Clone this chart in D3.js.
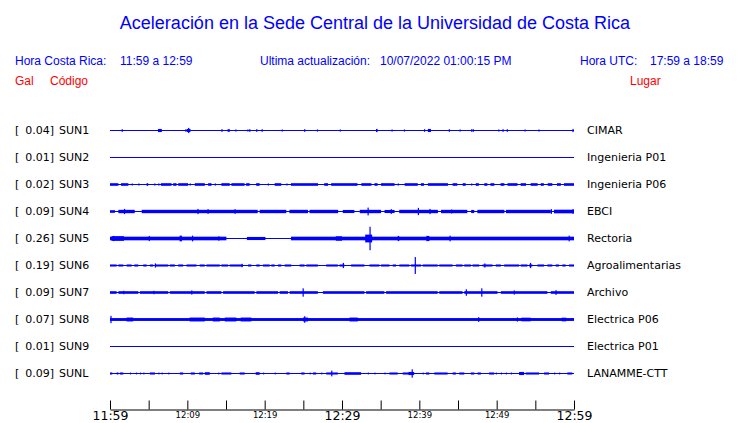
<!DOCTYPE html>
<html>
<head>
<meta charset="utf-8">
<script src="https://cdn.jsdelivr.net/npm/d3@7"></script>
<style>
  body { margin: 0; background: #fff; }
  .hdr { font-family: "Liberation Sans", Arial, sans-serif; }
  .lbl { font-family: "DejaVu Sans", sans-serif; font-size: 11px; fill: #000; }
</style>
</head>
<body>
<svg id="chart" width="740" height="423"></svg>
<script>
// station info
var codes = ["SUN1", "SUN2", "SUN3", "SUN4", "SUN5", "SUN6", "SUN7", "SUN8", "SUN9", "SUNL"];
var places = ["CIMAR", "Ingenieria P01", "Ingenieria P06", "EBCI", "Rectoria", "Agroalimentarias", "Archivo", "Electrica P06", "Electrica P01", "LANAMME-CTT"];
var peaks = ["0.04", "0.01", "0.02", "0.09", "0.26", "0.19", "0.09", "0.07", "0.01", "0.09"];

// time axis (minutes after 11:59)
var tickMinutes = [0, 5, 10, 15, 20, 25, 30, 35, 40, 45, 50, 55, 60];
var tickLabels = ["11:59", "", "12:09", "", "12:19", "", "12:29", "", "12:39", "", "12:49", "", "12:59"];
var bigLabels = ["11:59", "12:29", "12:59"];

// trace envelopes: [start min, end min, half amplitude (relative)]
var sun1 = [[1.5,1.5,0.1],[6.2,6.7,0.12],[9.7,9.7,0.08],[9.9,10.4,0.12],[10.1,10.1,0.2],[14.4,14.4,0.1],[15.2,15.5,0.1],
  [16.2,16.2,0.08],[17.75,17.75,0.08],[18.0,18.0,0.1],[18.9,18.9,0.1],[19.6,19.6,0.1],[22.2,22.2,0.08],[25.1,25.1,0.1],
  [26.75,26.75,0.08],[29.7,29.7,0.08],[34.4,34.6,0.12],[36.4,36.4,0.08],[38.0,38.0,0.08],[40.6,40.6,0.1],[41.1,41.5,0.12],
  [43.8,43.8,0.1],[45.2,45.2,0.08],[46.7,46.7,0.1],[46.9,46.9,0.1],[50.2,50.2,0.08],[50.75,50.75,0.1],[51.3,51.3,0.1],
  [53.6,53.6,0.08],[55.4,55.4,0.08],[59.8,59.8,0.12]];
var sun2 = [];
var sun3 = [[0,1.08,0.1],[1.42,2.37,0.1],[2.8,2.8,0.08],[3.66,3.66,0.08],[4.73,4.95,0.1],[5.72,5.72,0.08],[6.24,6.24,0.08],
  [6.58,7.96,0.1],[8.17,8.6,0.1],[8.82,10.1,0.1],[10.3,10.3,0.08],[10.97,12.26,0.1],[12.69,13.12,0.1],[13.55,13.55,0.08],
  [14.4,15.48,0.1],[15.7,17.4,0.1],[17.6,18.06,0.1],[18.9,19.35,0.1],[20.4,20.4,0.08],[21.3,22.15,0.1],[22.8,22.8,0.08],
  [23.4,26.9,0.1],[27.7,28.2,0.1],[28.6,32.0,0.1],[32.5,33.8,0.1],[34.2,34.6,0.1],[35.05,36.8,0.1],[37.2,37.2,0.08],
  [38.1,39.8,0.1],[40.2,40.6,0.1],[41.1,43.7,0.1],[44.3,44.9,0.1],[45.6,46.0,0.1],[46.7,46.7,0.08],[47.3,47.7,0.1],
  [48.4,48.8,0.1],[49.2,49.7,0.1],[50.5,51.0,0.1],[51.4,52.7,0.1],[53.1,53.8,0.1],[54.4,55.3,0.1],[55.7,56.1,0.1],
  [56.6,57.2,0.1],[57.8,58.3,0.1],[58.7,60,0.1]];
var sun4 = [[0,0.65,0.1],[1.08,3.2,0.13],[4.1,19.1,0.13],[19.35,22.8,0.13],[23.2,25.6,0.13],[25.8,29.5,0.13],[30.1,31.6,0.12],
  [32.3,35.05,0.13],[35.5,36.8,0.12],[37.4,42.4,0.13],[42.8,46.2,0.13],[46.7,47.1,0.12],[47.5,51.0,0.13],[51.2,57.0,0.13],
  [57.4,60,0.14],[1.8,1.8,0.2],[11.3,11.3,0.2],[12.6,12.6,0.18],[16.1,16.1,0.18],[33.3,33.3,0.3],[36.3,36.3,0.18],
  [39.8,39.8,0.28],[41.3,41.3,0.2],[44.1,44.1,0.15],[57.0,57.0,0.18],[59.8,59.8,0.18]];
var sun5 = [[0,15.05,0.14],[17.7,20.1,0.12],[23.4,60,0.14],[0.2,1.8,0.18],[0.4,0.4,0.2],[5.0,5.0,0.2],[9.0,9.3,0.22],
  [10.6,10.6,0.22],[14.0,14.0,0.17],[29.2,30.0,0.17],[33.0,33.9,0.3],[33.55,33.55,0.9],[37.2,37.4,0.2],[40.9,41.3,0.2],
  [43.9,43.9,0.22],[59.3,59.3,0.22]];
var sun6 = [[0,0.86,0.08],[1.08,1.72,0.08],[2.15,2.8,0.08],[3.14,3.66,0.08],[4.3,4.73,0.08],[5.16,5.59,0.08],[5.8,7.53,0.08],
  [7.74,8.39,0.08],[8.82,9.46,0.08],[9.9,11.18,0.08],[11.6,12.26,0.08],[12.47,14.19,0.08],[14.4,15.27,0.08],[15.48,17.2,0.08],
  [17.85,18.28,0.08],[18.92,19.35,0.08],[19.78,20.65,0.08],[20.86,21.29,0.08],[21.72,22.15,0.08],[22.58,23.44,0.08],
  [24.52,25.16,0.08],[25.38,26.88,0.08],[27.96,29.46,0.08],[29.68,30.32,0.08],[31.18,32.9,0.08],[33.55,34.84,0.08],
  [35.05,36.13,0.08],[36.56,36.99,0.08],[37.42,38.71,0.08],[38.92,40.22,0.08],[40.43,42.37,0.08],[42.58,44.3,0.08],
  [44.73,45.59,0.08],[45.81,46.67,0.08],[46.88,47.74,0.08],[48.17,49.46,0.08],[49.89,50.54,0.08],[50.97,52.9,0.08],
  [53.12,53.98,0.08],[54.19,54.62,0.08],[55.27,56.13,0.08],[56.56,57.2,0.08],[57.63,58.06,0.08],[58.49,58.92,0.08],
  [59.35,60,0.08],[5.8,5.8,0.16],[17.0,17.0,0.13],[30.1,30.1,0.2],[39.4,39.4,0.65],[48.4,48.4,0.16],[54.3,54.3,0.2]];
var sun7 = [[0,0.86,0.1],[1.08,3.66,0.1],[3.87,7.53,0.1],[7.74,12.26,0.1],[12.47,14.41,0.1],[14.62,18.71,0.1],
  [18.92,21.72,0.1],[21.94,23.01,0.1],[23.23,26.88,0.1],[27.53,32.9,0.1],[33.12,35.48,0.1],[35.7,42.37,0.1],
  [42.58,45.59,0.1],[45.81,50.11,0.1],[50.54,56.56,0.1],[56.99,60,0.1],[1.7,1.7,0.13],[5.6,5.6,0.13],[10.5,10.5,0.16],
  [24.9,24.9,0.32],[46.0,46.0,0.25],[48.0,48.0,0.32],[52.2,52.2,0.16],[57.6,57.6,0.18]];
var sun8 = [[0,60,0.11],[2.15,3.0,0.15],[10.3,12.26,0.15],[13.3,14.2,0.15],[14.84,16.34,0.15],[16.9,18.28,0.15],
  [24.95,25.6,0.15],[30.97,32.04,0.15],[0.05,0.05,0.28],[25.1,25.1,0.25],[47.6,47.6,0.18],[52.6,52.6,0.16],
  [53.2,54.4,0.14],[58.4,59.0,0.14]];
var sun9 = [];
var sunl = [[0,0.3,0.08],[0.86,1.08,0.08],[1.29,1.72,0.08],[2.58,2.58,0.07],[3.35,3.35,0.07],[3.87,3.87,0.07],[4.3,4.3,0.07],
  [5.16,5.81,0.08],[6.24,6.24,0.07],[6.67,6.67,0.07],[7.53,7.53,0.07],[9.03,9.46,0.08],[10.45,10.97,0.08],[11.53,12.04,0.08],
  [12.26,12.9,0.1],[13.98,13.98,0.07],[14.41,15.7,0.08],[16.77,17.42,0.08],[18.84,19.35,0.1],[19.78,19.78,0.07],
  [21.29,21.29,0.07],[22.8,23.23,0.08],[24.73,25.16,0.08],[25.81,25.81,0.07],[26.24,26.67,0.08],[27.31,27.31,0.07],
  [27.96,29.46,0.08],[30.32,32.47,0.1],[33.33,33.33,0.07],[34.19,34.19,0.07],[35.48,35.48,0.07],[36.13,37.2,0.08],
  [37.85,39.35,0.08],[38.6,39.3,0.12],[40.43,40.43,0.07],[40.86,41.29,0.08],[41.94,43.66,0.08],[44.3,44.73,0.08],
  [45.16,45.81,0.08],[46.67,47.1,0.08],[47.53,47.96,0.08],[49.03,49.68,0.08],[49.89,49.89,0.07],[50.54,50.54,0.07],
  [51.18,51.18,0.07],[51.83,51.83,0.07],[52.9,53.55,0.12],[53.76,55.48,0.08],[56.13,56.77,0.08],[57.42,57.42,0.07],
  [58.06,58.06,0.07],[59.14,59.78,0.08],[28.6,28.6,0.22],[39.0,39.0,0.32]];
var traces = [sun1, sun2, sun3, sun4, sun5, sun6, sun7, sun8, sun9, sunl];

var blue = "#0000ff";
var red = "#ff0000";
var svg = d3.select("#chart");

var start = new Date(2022, 6, 10, 11, 59);
function atMin(m) { return new Date(start.getTime() + m * 60000); }

var x = d3.scaleTime()
  .domain([atMin(0), atMin(60)])
  .range([110, 574]);

var y = d3.scalePoint()
  .domain(codes)
  .range([130, 373]);

var amp = d3.scaleLinear().domain([0, 1]).range([0, 13]);

// header
var hdr = svg.append("g").attr("class", "hdr");
hdr.append("text").attr("x", 375).attr("y", 29).attr("text-anchor", "middle")
  .attr("font-size", 18).attr("fill", blue)
  .text("Aceleración en la Sede Central de la Universidad de Costa Rica");

var row2 = [["Hora Costa Rica:", 15], ["11:59 a 12:59", 120], ["Ultima actualización:", 260],
  ["10/07/2022 01:00:15 PM", 380], ["Hora UTC:", 580], ["17:59 a 18:59", 650]];
hdr.selectAll(".r2").data(row2).enter().append("text")
  .attr("x", d => d[1]).attr("y", 65).attr("font-size", 12).attr("fill", blue)
  .text(d => d[0]);

var row3 = [["Gal", 15], ["Código", 50], ["Lugar", 630]];
hdr.selectAll(".r3").data(row3).enter().append("text")
  .attr("x", d => d[1]).attr("y", 85).attr("font-size", 12).attr("fill", red)
  .text(d => d[0]);

// station labels
var rows = svg.selectAll(".row").data(codes).enter().append("g")
  .attr("class", "row")
  .attr("transform", d => "translate(0," + y(d) + ")");

rows.append("text").attr("class", "lbl").attr("x", 15).attr("dy", "0.4em").text("[");
rows.append("text").attr("class", "lbl").attr("x", 54).attr("dy", "0.4em").attr("text-anchor", "end")
  .text((d, i) => peaks[i] + "]");
rows.append("text").attr("class", "lbl").attr("x", 59).attr("dy", "0.4em").text(d => d);
rows.append("text").attr("class", "lbl").attr("x", 587).attr("dy", "0.4em").text((d, i) => places[i]);

// traces
rows.append("line")
  .attr("x1", x(atMin(0))).attr("x2", x(atMin(60)))
  .attr("y1", 0.5).attr("y2", 0.5)
  .attr("stroke", blue).attr("stroke-width", 1.2);

rows.each(function (d, i) {
  d3.select(this).selectAll("rect").data(traces[i]).enter().append("rect")
    .attr("x", s => x(atMin(s[0])))
    .attr("width", s => Math.max(1.2, x(atMin(s[1])) - x(atMin(s[0]))))
    .attr("y", s => 0.5 - amp(s[2]))
    .attr("height", s => 2 * amp(s[2]))
    .attr("fill", blue);
});

// time axis
var axis = d3.axisBottom(x)
  .tickValues(tickMinutes.map(atMin))
  .tickFormat((t, i) => tickLabels[i])
  .tickSizeInner(-9)
  .tickSizeOuter(0)
  .tickPadding(2);

var ax = svg.append("g")
  .attr("transform", "translate(0,409.5)")
  .call(axis);
ax.select(".domain").attr("stroke", "#000");
ax.selectAll(".tick line").attr("stroke", "#000");
ax.selectAll(".tick text")
  .attr("font-family", "DejaVu Sans, sans-serif")
  .attr("font-weight", "normal")
  .attr("fill", "#000")
  .attr("font-size", (t, i) => bigLabels.indexOf(tickLabels[i]) >= 0 ? 12.5 : 8.5);
</script>
</body>
</html>
